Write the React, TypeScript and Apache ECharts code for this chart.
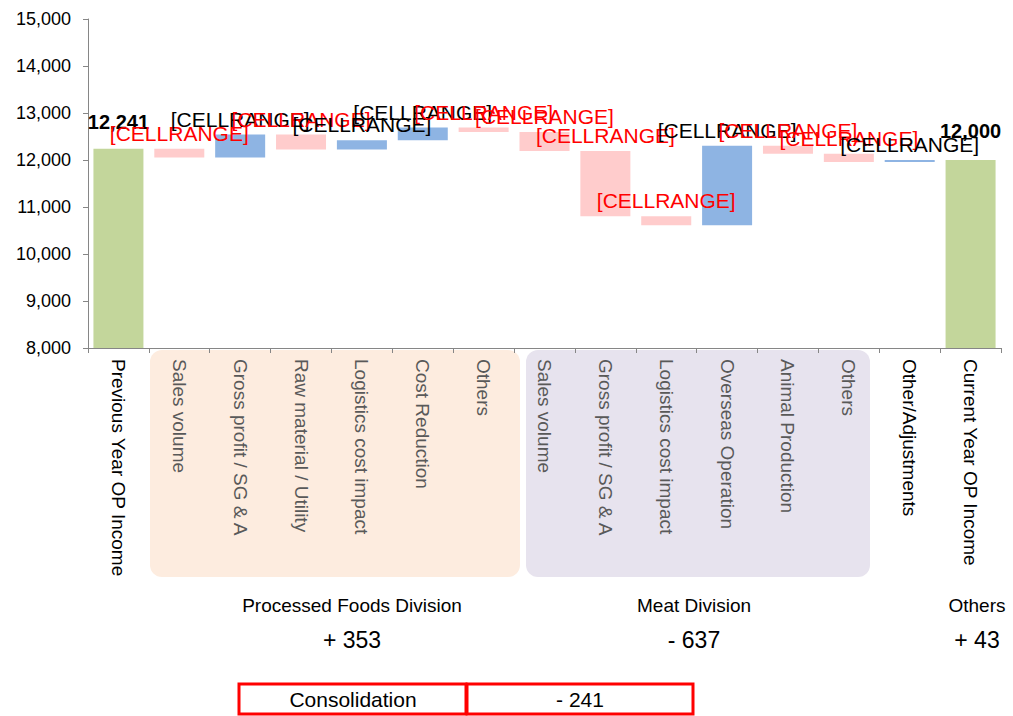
import React, { useEffect, useRef } from "react";
import * as echarts from "echarts";

const categories = [
  "Previous Year OP Income",
  "Sales volume",
  "Gross profit / SG & A",
  "Raw material / Utility",
  "Logistics cost impact",
  "Cost Reduction",
  "Others",
  "Sales volume",
  "Gross profit / SG & A",
  "Logistics cost impact",
  "Overseas Operation",
  "Animal Production",
  "Others",
  "Other/Adjustments",
  "Current Year OP Income",
];
const blackCategoryIdx = [0, 13, 14];

const startValue = 12241;
const deltas = [-190, 490, -320, 200, 270, -97, -400, -1390, -190, 1690, -170, -177, 43];
const endValue = 12000;

const deltaLabel = "[CELLRANGE]";
const yTicks = { min: 8000, max: 15000, interval: 1000 };

const divisionNames = ["Processed Foods Division", "Meat Division", "Others"];
const divisionChanges = ["+ 353", "- 637", "+ 43"];
const consolidationName = "Consolidation";
const consolidationValue = "- 241";

const GREEN = "#c3d69b";
const PINK = "#ffcccc";
const BLUE = "#8eb4e3";

export default function App() {
  const ref = useRef<HTMLDivElement>(null);
  useEffect(() => {
    if (!ref.current) return;
    const chart = echarts.init(ref.current, undefined, { renderer: "svg" });

    const bases: number[] = [0];
    const heights: any[] = [];
    heights.push({
      value: startValue,
      itemStyle: { color: GREEN },
      label: {
        show: true,
        position: "top",
        distance: 17,
        formatter: startValue.toLocaleString("en-US"),
        color: "#000",
        fontWeight: "bold",
        fontSize: 20,
      },
    });
    let run = startValue;
    deltas.forEach((d) => {
      const next = run + d;
      bases.push(Math.min(run, next));
      heights.push({
        value: Math.abs(d),
        itemStyle: { color: d >= 0 ? BLUE : PINK },
        label: {
          show: true,
          position: "top",
          distance: 5,
          formatter: deltaLabel,
          color: d >= 0 ? "#000" : "#ff0000",
          fontSize: 21,
        },
      });
      run = next;
    });
    bases.push(0);
    heights.push({
      value: endValue,
      itemStyle: { color: GREEN },
      label: {
        show: true,
        position: "top",
        distance: 19,
        formatter: endValue.toLocaleString("en-US"),
        color: "#000",
        fontWeight: "bold",
        fontSize: 20,
      },
    });

    const font = "'Liberation Sans', Arial, sans-serif";
    const divX = [352, 694, 977];

    const graphics: any[] = [
      {
        type: "rect",
        z: -1,
        shape: { x: 150, y: 350, width: 370, height: 227, r: 12 },
        style: { fill: "#fdecdf" },
      },
      {
        type: "rect",
        z: -1,
        shape: { x: 526, y: 350, width: 344, height: 227, r: 12 },
        style: { fill: "#e7e3ee" },
      },
    ];
    divisionNames.forEach((n, i) => {
      graphics.push({
        type: "text",
        x: divX[i],
        y: 605,
        style: {
          text: n,
          textAlign: "center",
          textVerticalAlign: "middle",
          font: `19px ${font}`,
          fill: "#000",
        },
      });
      graphics.push({
        type: "text",
        x: divX[i],
        y: 640,
        style: {
          text: divisionChanges[i],
          textAlign: "center",
          textVerticalAlign: "middle",
          font: `23px ${font}`,
          fill: "#000",
        },
      });
    });
    graphics.push(
      {
        type: "rect",
        shape: { x: 239, y: 684, width: 227, height: 30 },
        style: { fill: "#fff", stroke: "#ff0000", lineWidth: 3 },
      },
      {
        type: "rect",
        shape: { x: 467, y: 684, width: 226, height: 30 },
        style: { fill: "#fff", stroke: "#ff0000", lineWidth: 3 },
      },
      {
        type: "text",
        x: 353,
        y: 699,
        style: {
          text: consolidationName,
          textAlign: "center",
          textVerticalAlign: "middle",
          font: `21px ${font}`,
          fill: "#000",
        },
      },
      {
        type: "text",
        x: 580,
        y: 699,
        style: {
          text: consolidationValue,
          textAlign: "center",
          textVerticalAlign: "middle",
          font: `21px ${font}`,
          fill: "#000",
        },
      }
    );

    chart.setOption({
      animation: false,
      textStyle: { fontFamily: font },
      grid: { left: 88, right: 12, top: 19, bottom: 368, containLabel: false },
      xAxis: {
        type: "category",
        data: categories,
        axisLine: { lineStyle: { color: "#868686" } },
        axisTick: { show: true, length: 5, lineStyle: { color: "#868686" } },
        axisLabel: {
          rotate: -90,
          interval: 0,
          margin: 11,
          fontSize: 19,
          fontFamily: font,
          formatter: (v: string, i: number) =>
            blackCategoryIdx.includes(i) ? `{b|${v}}` : `{g|${v}}`,
          rich: {
            b: { color: "#000", fontSize: 19, fontFamily: font },
            g: { color: "#595959", fontSize: 19, fontFamily: font },
          },
        },
      },
      yAxis: {
        type: "value",
        min: yTicks.min,
        max: yTicks.max,
        interval: yTicks.interval,
        axisLine: { show: true, lineStyle: { color: "#868686" } },
        axisTick: { show: true, length: 5, lineStyle: { color: "#868686" } },
        splitLine: { show: false },
        axisLabel: {
          fontSize: 18,
          margin: 17,
          color: "#000",
          fontFamily: font,
          formatter: (v: number) => v.toLocaleString("en-US"),
        },
      },
      series: [
        {
          type: "bar",
          stack: "w",
          data: bases,
          barWidth: 50,
          itemStyle: { color: "transparent" },
          silent: true,
        },
        {
          type: "bar",
          stack: "w",
          data: heights,
          barWidth: 50,
        },
      ],
      graphic: graphics,
    });
    return () => chart.dispose();
  }, []);
  return (
    <div
      ref={ref}
      style={{ position: "fixed", left: 0, top: 0, width: 1013, height: 716, background: "#fff" }}
    />
  );
}
